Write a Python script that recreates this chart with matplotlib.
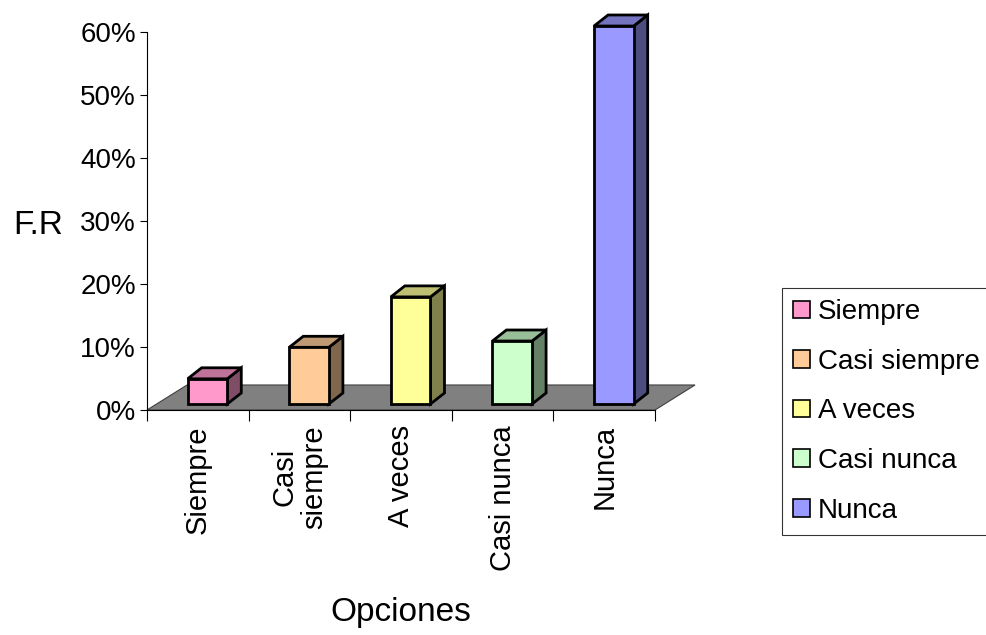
import matplotlib
matplotlib.use("Agg")
import matplotlib.pyplot as plt
from matplotlib.patches import Polygon, Patch
from matplotlib.colors import to_rgb

plt.rcParams["font.family"] = ["Liberation Sans", "DejaVu Sans"]

# Datos de la encuesta (frecuencia relativa, %)
categorias = ["Siempre", "Casi siempre", "A veces", "Casi nunca", "Nunca"]
etiquetas_eje = ["Siempre", "Casi\nsiempre", "A veces", "Casi nunca", "Nunca"]
valores = [4, 9, 17, 10, 60]
colores = ["#FF99CC", "#FFCC99", "#FFFF99", "#CCFFCC", "#9999FF"]
ticks_y = [0, 10, 20, 30, 40, 50, 60]


def sombra(color, f):
    r, g, b = to_rgb(color)
    return (r * f, g * f, b * f)


fig = plt.figure(figsize=(9.86, 6.35), dpi=100)
ax = fig.add_axes([147 / 986, 1 - 410 / 635, 508 / 986, 378 / 635])
ax.set_xlim(0, len(categorias))
ax.set_ylim(0, 60)

# desplazamientos de la perspectiva oblicua (en unidades de datos)
piso_dx, piso_dy = 0.394, 3.97
frente_dx, frente_dy = 0.095, 0.95
prof_dx, prof_dy = 0.138, 1.75
ancho = 0.39

n = len(categorias)
piso = Polygon([(0, 0), (n, 0), (n + piso_dx, piso_dy), (piso_dx, piso_dy)],
               closed=True, facecolor="#808080", edgecolor="#404040",
               linewidth=0.8, clip_on=False, zorder=1)
ax.add_patch(piso)

for i, (v, c) in enumerate(zip(valores, colores)):
    x0 = i + 0.5 + frente_dx - ancho / 2
    x1 = x0 + ancho
    y0 = frente_dy
    y1 = frente_dy + v
    kw = dict(closed=True, edgecolor="black", linewidth=2.0,
              joinstyle="miter", clip_on=False, zorder=3)
    ax.add_patch(Polygon([(x1, y0), (x1 + prof_dx, y0 + prof_dy),
                          (x1 + prof_dx, y1 + prof_dy), (x1, y1)],
                         facecolor=sombra(c, 0.5), **kw))
    ax.add_patch(Polygon([(x0, y1), (x1, y1), (x1 + prof_dx, y1 + prof_dy),
                          (x0 + prof_dx, y1 + prof_dy)],
                         facecolor=sombra(c, 0.75), **kw))
    ax.add_patch(Polygon([(x0, y0), (x1, y0), (x1, y1), (x0, y1)],
                         facecolor=c, **kw))

for lado in ["top", "right"]:
    ax.spines[lado].set_visible(False)
ax.spines["left"].set_linewidth(0.8)
ax.spines["bottom"].set_linewidth(0.8)

ax.set_yticks(ticks_y)
ax.set_yticklabels([f"{t}%" for t in ticks_y], fontsize=20)
ax.tick_params(axis="y", direction="out", length=5, width=0.8, pad=3)

ax.set_xticks(range(n + 1))
ax.set_xticklabels([])
ax.tick_params(axis="x", which="major", direction="out", length=8, width=0.8)
ax.set_xticks([i + 0.5 for i in range(n)], minor=True)
ax.set_xticklabels(etiquetas_eje, minor=True, rotation=90, fontsize=21,
                   va="top", ha="center", multialignment="center",
                   linespacing=1.1)
ax.tick_params(axis="x", which="minor", length=0, pad=11)

# títulos de los ejes
fig.text(38 / 986, 1 - 225 / 635, "F.R", fontsize=24, ha="center", va="center")
fig.text(401 / 986, 1 - 612 / 635, "Opciones", fontsize=24, ha="center", va="center")

manejadores = [Patch(facecolor=c, edgecolor="black", linewidth=1.2) for c in colores]
leg = fig.legend(manejadores, categorias, loc="upper left",
                 bbox_to_anchor=(782 / 986, 1 - 288 / 635), fontsize=20,
                 frameon=True, fancybox=False, handlelength=0.6,
                 handleheight=0.6, handletextpad=0.3, labelspacing=0.85,
                 borderpad=0.4, borderaxespad=0)
leg.get_frame().set_edgecolor("black")
leg.get_frame().set_linewidth(0.8)

fig.savefig("out.png", dpi=100)
